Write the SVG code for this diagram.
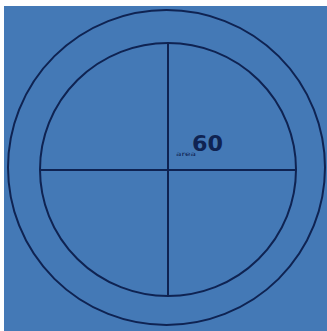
<svg xmlns="http://www.w3.org/2000/svg" width="327" height="331" viewBox="0 0 327 331">
<style>
.ln{fill:none;stroke:#0f2352;stroke-width:2}
.t{font-family:"DejaVu Sans","Liberation Sans",sans-serif;fill:#0f2352}
</style>
<rect width="327" height="331" fill="#ffffff"/>
<rect x="4" y="6" width="323" height="325" fill="#4479b6"/>
<g id="outer"><ellipse class="ln" cx="166.5" cy="167.5" rx="158.5" ry="157.5"/></g>
<g id="inner"><ellipse class="ln" cx="168" cy="169.5" rx="128" ry="126.5"/></g>
<g id="connectors">
<line class="ln" x1="40" y1="170" x2="296" y2="170"/>
<line class="ln" x1="168" y1="43" x2="168" y2="296"/>
</g>
<g id="label">
<text class="t" x="192" y="150.5" font-size="21" font-weight="bold" textLength="31" lengthAdjust="spacingAndGlyphs">60</text>
<text class="t" x="176" y="156" font-size="6" textLength="20" lengthAdjust="spacingAndGlyphs">area</text>
</g>
</svg>
